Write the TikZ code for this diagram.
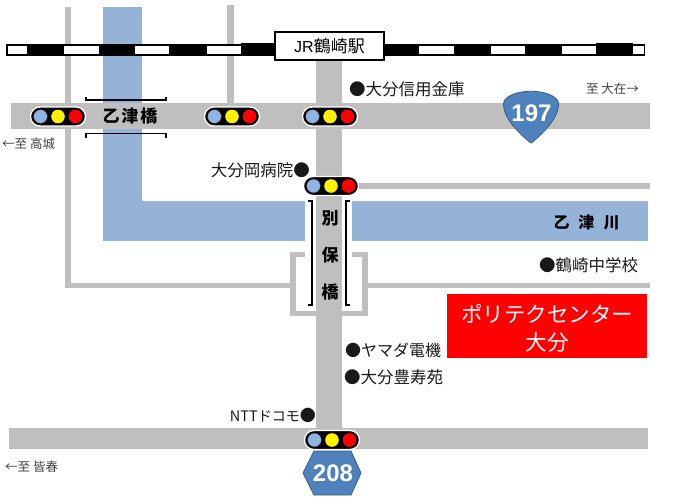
\documentclass[tikz,border=0pt]{standalone}
\usepackage{fontspec}
\setmainfont{Liberation Sans}
\newfontfamily\jp{Noto Sans CJK JP}
\definecolor{roadc}{HTML}{BFBFBF}
\definecolor{riverc}{HTML}{95B3D7}
\definecolor{signc}{HTML}{4F81BD}
\definecolor{signe}{HTML}{385D8A}
\definecolor{lamp}{HTML}{8DB4E2}
\tikzset{
  road/.style={fill=roadc,draw=none},
  river/.style={fill=riverc,draw=none},
  railw/.style={fill=white,draw=none},
  brk/.style={draw=black,line width=1.1pt},
  lbl/.style={inner sep=0pt,font=\jp\fontsize{16.5}{17}\selectfont,text=black!90},
  dir/.style={inner sep=0pt,font=\jp\fontsize{12.5}{14}\selectfont,text=black!75},
  bridge/.style={inner sep=0pt,font=\jp\bfseries\fontsize{17}{18}\selectfont},
  signtxt/.style={inner sep=0pt,text=white,font=\bfseries\fontsize{24}{24}\selectfont},
  pics/tlight/.style={code={
    \fill[black,draw=white,line width=1.3pt,rounded corners=9.5pt] (-27.5,-9.5) rectangle (27.5,9.5);
    \fill[lamp,draw=black!60!lamp,line width=.2pt] (-17.5,0) circle (6.8);
    \fill[yellow] (0,0) circle (6.8);
    \fill[red] (17.5,0) circle (6.8);
  }}
}
\begin{document}
\begin{tikzpicture}[x=1pt,y=-1pt]
\useasboundingbox (0,0) rectangle (678,496);
% rivers
\fill[river] (103,7) rectangle (142,241);
\fill[river] (142,201) rectangle (305,241);
\fill[river] (352,201) rectangle (648,241);
% thin roads
\fill[road] (65,7) rectangle (71,288);
\fill[road] (65,283) rectangle (296,288);
\fill[road] (227,5) rectangle (234,103);
\fill[road] (290,252) rectangle (296,316);
\fill[road] (290,252) rectangle (305,257);
\fill[road] (290,311) rectangle (316,316);
\fill[road] (362,252) rectangle (368,316);
\fill[road] (352,252) rectangle (368,257);
\fill[road] (342,311) rectangle (368,316);
\fill[road] (368,283) rectangle (650,288);
\fill[road] (340,183) rectangle (650,189);
% main roads
\fill[road] (316,56) rectangle (342,430);
\fill[road] (11,103) rectangle (650,129);
\fill[road] (9,428) rectangle (648,449);
% railway
\fill[black] (6,43.5) rectangle (645,56);
\foreach \a/\b in {7.5/27,64/99,135/169,207/241,419/454,491/525,562/596,633/643.5}
  \fill[railw] (\a,46) rectangle (\b,54);
\fill[black] (241,43) rectangle (275,53.5);
\fill[black] (596,43) rectangle (633,53.5);
% station
\node[draw=black,fill=white,line width=1.1pt,minimum width=109pt,minimum height=28pt,inner sep=0pt,anchor=center] (station) at (329.5,46) {\fontsize{16}{16}\selectfont JR\jp\fontsize{17}{17}\selectfont 鶴崎駅};
% bridge brackets
\draw[brk] (86,97) -- (86,100) -- (166,100) -- (166,97);
\draw[brk] (86,138) -- (86,133.5) -- (166,133.5) -- (166,138);
\draw[brk] (308,201) -- (312,201) -- (312,305) -- (308,305);
\draw[brk] (350,201) -- (346,201) -- (346,305) -- (350,305);
% traffic lights
\pic at (58,116.5) {tlight};
\pic at (232,116.5) {tlight};
\pic at (330,116.5) {tlight};
\pic at (331,186) {tlight};
\pic at (332,440) {tlight};
% signs
\fill[signc,draw=signe,line width=.8pt] (531,143)
  .. controls (524,138) and (500,117) .. (504,101)
  .. controls (512,88) and (550,88) .. (558,101)
  .. controls (562,117) and (538,138) .. (531,143) -- cycle;
\node[signtxt] (n197) at (531.5,113.5) {197};
\fill[signc,draw=signe,line width=.8pt] (303,473) -- (314,451) -- (351,451) -- (361,473) -- (351,495) -- (314,495) -- cycle;
\node[signtxt] (n208) at (333,473.5) {208};
% labels
\node[bridge,anchor=center] (b1) at (130,116) {乙\hspace{2pt}津\hspace{2pt}橋};
\node[bridge] (b2a) at (330,218) {別};
\node[bridge] (b2b) at (330,255) {保};
\node[bridge] (b2c) at (330,292) {橋};
\node[bridge,font=\jp\bfseries\fontsize{16}{16}\selectfont] (riv) at (586.5,222.5) {乙\hspace{9pt}津\hspace{9pt}川};
\node[lbl,anchor=west] (t1) at (349,89) {●大分信用金庫};
\node[lbl,anchor=east] (t2) at (310,170) {大分岡病院●};
\node[lbl,anchor=west] (t3) at (539,265) {●鶴崎中学校};
\node[lbl,anchor=west,font=\jp\fontsize{16}{17}\selectfont] (t4) at (345,350) {●ヤマダ電機};
\node[lbl,anchor=west] (t5) at (344,377) {●大分豊寿苑};
\node[lbl,anchor=east] (t6) at (316,415) {\fontsize{14.5}{15}\selectfont NTT\jp\fontsize{14}{15}\selectfont ドコモ\fontsize{16}{16}\selectfont ●};
\node[dir,anchor=west] (d1) at (2,144) {←至 高城};
\node[dir,anchor=east] (d2) at (639,89) {至 大在→};
\node[dir,anchor=west] (d3) at (5,467) {←至 皆春};
% red box
\fill[red] (447,294) rectangle (647,358);
\node[inner sep=0pt,text=white,align=center,font=\jp\fontsize{21.5}{28}\selectfont] (poly) at (547,328.5) {ポリテクセンター\\大分};
\end{tikzpicture}
\end{document}
